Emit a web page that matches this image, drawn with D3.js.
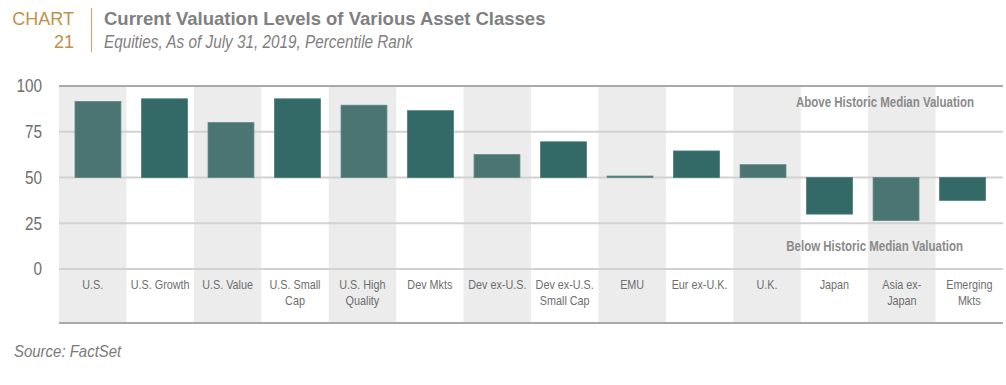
<!DOCTYPE html>
<html>
<head>
<meta charset="utf-8">
<script src="https://cdn.jsdelivr.net/npm/d3@7"></script>
<style>
  body { margin: 0; background: #fff; }
  svg text { font-family: "Liberation Sans", Arial, sans-serif; }
</style>
</head>
<body>
<div id="chart"></div>
<script>
// categories and percentile ranks
var categories = [["U.S."], ["U.S. Growth"], ["U.S. Value"], ["U.S. Small", "Cap"], ["U.S. High", "Quality"],
  ["Dev Mkts"], ["Dev ex-U.S."], ["Dev ex-U.S.", "Small Cap"], ["EMU"], ["Eur ex-U.K."], ["U.K."],
  ["Japan"], ["Asia ex-", "Japan"], ["Emerging", "Mkts"]];
var values = [91.5, 93, 80, 93, 89.5, 86.5, 62.5, 69.5, 50.8, 64.5, 57, 30, 26.5, 37.5];
var yTicks = [0, 25, 50, 75, 100];
var median = 50;

var width = 1006, height = 385;
var plotLeft = 59, plotRight = 1003, plotTop = 86, plotBottom = 269, frameBottom = 323;

// squeeze text horizontally to imitate the condensed face of the original
function condense(sel, k) {
  sel.each(function() {
    var w = this.getComputedTextLength();
    d3.select(this).attr("textLength", w * k).attr("lengthAdjust", "spacingAndGlyphs");
  });
}

var svg = d3.select("#chart").append("svg")
    .attr("width", width)
    .attr("height", height);

// header
svg.append("text").attr("x", 74).attr("y", 25).attr("text-anchor", "end")
  .attr("font-size", 18).attr("fill", "#c0914a").text("CHART");
svg.append("text").attr("x", 74).attr("y", 48).attr("text-anchor", "end")
  .attr("font-size", 18).attr("fill", "#c0914a").text("21");
svg.append("line").attr("x1", 91.5).attr("x2", 91.5).attr("y1", 8).attr("y2", 52)
  .attr("stroke", "#c9a977").attr("stroke-width", 1.2);
svg.append("text").attr("x", 104).attr("y", 25)
  .attr("font-size", 18.5).attr("font-weight", "bold").attr("fill", "#808080")
  .text("Current Valuation Levels of Various Asset Classes");
svg.append("text").attr("x", 104).attr("y", 48)
  .attr("font-size", 18).attr("font-style", "italic").attr("fill", "#808080")
  .text("Equities, As of July 31, 2019, Percentile Rank")
  .call(condense, 0.85);

var idx = d3.range(categories.length);

var x = d3.scaleBand().domain(idx).range([plotLeft, plotRight]);
// bars sit on a slightly narrower band than the shading
var xb = d3.scaleBand().domain(idx).range([64.7, 995.8]).paddingInner(0.31).paddingOuter(0.155);
var y = d3.scaleLinear().domain([0, 100]).range([plotBottom, plotTop]);

// alternating shaded columns
svg.append("g").selectAll("rect")
  .data(idx.filter(function(d) { return d % 2 == 0; }))
  .enter().append("rect")
    .attr("x", function(d) { return x(d); })
    .attr("y", plotTop)
    .attr("width", x.bandwidth())
    .attr("height", frameBottom - plotTop)
    .attr("fill", "#ececec");

// gridlines
svg.append("g").selectAll("line")
  .data(yTicks.filter(function(d) { return d < 100; }))
  .enter().append("line")
    .attr("x1", plotLeft).attr("x2", plotRight)
    .attr("y1", function(d) { return y(d); })
    .attr("y2", function(d) { return y(d); })
    .attr("stroke", "#d2d2d2").attr("stroke-width", 2);

svg.append("line").attr("x1", plotLeft).attr("x2", plotRight).attr("y1", y(100)).attr("y2", y(100))
  .attr("stroke", "#a9a9a9").attr("stroke-width", 2);
svg.append("line").attr("x1", plotLeft).attr("x2", plotRight).attr("y1", frameBottom).attr("y2", frameBottom)
  .attr("stroke", "#a9a9a9").attr("stroke-width", 2);

// y axis
var yAxis = svg.append("g")
  .attr("transform", "translate(" + 42 + ",0)")
  .call(d3.axisLeft(y).tickValues(yTicks).tickSize(0).tickPadding(0));
yAxis.select(".domain").remove();
yAxis.selectAll("text").attr("font-size", 18).attr("fill", "#6e6e6e")
  .style("font-family", "'Liberation Sans', Arial, sans-serif")
  .call(condense, 0.85);

// bars
svg.append("g").selectAll("rect")
  .data(values)
  .enter().append("rect")
    .attr("x", function(d, i) { return xb(i); })
    .attr("y", function(d) { return y(Math.max(d, median)); })
    .attr("width", xb.bandwidth())
    .attr("height", function(d) { return Math.abs(y(d) - y(median)); })
    .attr("fill", function(d, i) { return i % 2 == 0 ? "#4a7572" : "#336a67"; })
    .attr("stroke", function(d, i) { return i % 2 == 0 ? "#5d8885" : "#4a7b78"; })
    .attr("stroke-width", 0.8);

// category labels
var labels = svg.append("g").selectAll("text")
  .data(categories)
  .enter().append("text")
    .attr("x", function(d, i) { return x(i) + x.bandwidth() / 2; })
    .attr("y", 289)
    .attr("text-anchor", "middle")
    .attr("font-size", 13.5)
    .attr("fill", "#6e6e6e");
labels.selectAll("tspan")
  .data(function(d) { return d; })
  .enter().append("tspan")
    .attr("x", function() { return d3.select(this.parentNode).attr("x"); })
    .attr("dy", function(d, i) { return i == 0 ? 0 : 16; })
    .text(function(d) { return d; })
    .call(condense, 0.8);

// annotations
svg.append("text").attr("x", 974).attr("y", 107).attr("text-anchor", "end")
  .attr("font-size", 14).attr("font-weight", "bold").attr("fill", "#8a8a8a")
  .text("Above Historic Median Valuation")
  .call(condense, 0.82);
svg.append("text").attr("x", 963).attr("y", 251).attr("text-anchor", "end")
  .attr("font-size", 14).attr("font-weight", "bold").attr("fill", "#8a8a8a")
  .text("Below Historic Median Valuation")
  .call(condense, 0.82);

// source
svg.append("text").attr("x", 14).attr("y", 357)
  .attr("font-size", 17).attr("font-style", "italic").attr("fill", "#7a7a7a")
  .text("Source: FactSet")
  .call(condense, 0.88);
</script>
</body>
</html>
